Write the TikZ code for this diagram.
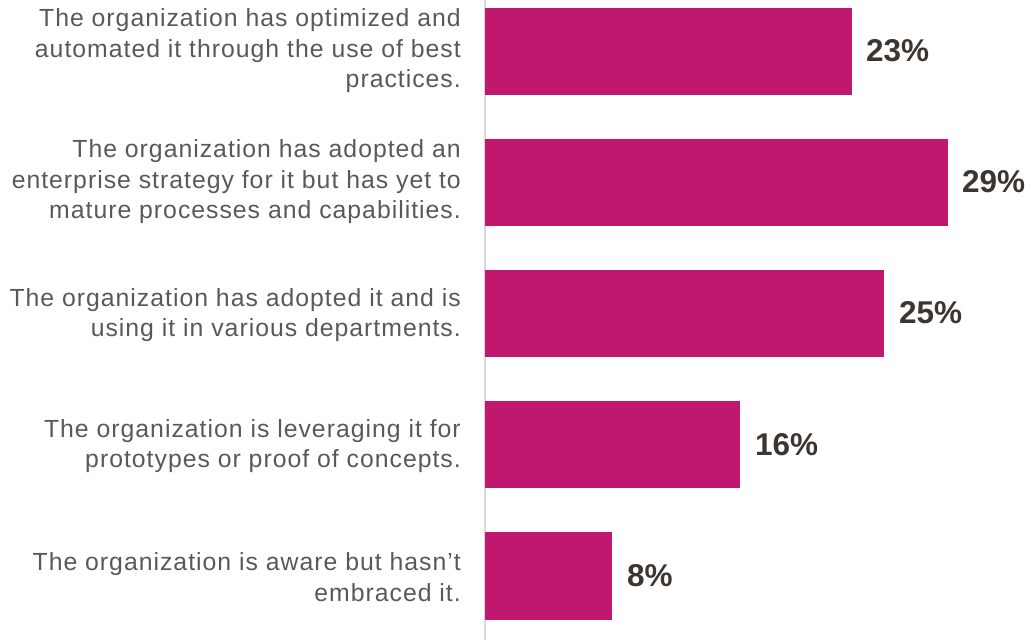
\documentclass[tikz,border=0pt]{standalone}
\usepackage{fontspec}
\setmainfont{Liberation Sans}
\newfontfamily\catfont[LetterSpace=4]{Liberation Sans}
\definecolor{barc}{HTML}{C0176F}
\definecolor{labc}{HTML}{595959}
\definecolor{valc}{HTML}{3D3530}
\definecolor{axc}{HTML}{D9D9D9}
\begin{document}
\begin{tikzpicture}[x=1pt,y=-1pt,
  bar/.style={fill=barc,draw=none},
  cat/.style={anchor=east,align=right,inner sep=0pt,text=labc,font=\catfont\fontsize{24.8}{30.5}\selectfont},
  val/.style={anchor=west,inner sep=0pt,text=valc,font=\fontsize{31.5}{34}\selectfont\bfseries}]
\useasboundingbox (0,0) rectangle (1030,640);
\draw[axc,line width=2pt] (484.5,0) coordinate (axt) -- (484.5,640) coordinate (axb);
% bars
\path[bar] (485,7.5) rectangle (852,95) ;
\path[bar] (485,138.5) rectangle (948,225.5);
\path[bar] (485,269.5) rectangle (884,357);
\path[bar] (485,401) rectangle (740,488);
\path[bar] (485,532) rectangle (612,619.5);
\node[val] (v1) at (866,51) {23\%};
\node[val] (v2) at (962,182) {29\%};
\node[val] (v3) at (899,313) {25\%};
\node[val] (v4) at (755,444.5) {16\%};
\node[val] (v5) at (627,576) {8\%};
\node[cat] (c1) at (461,51) {The organization has optimized and\\automated it through the use of best\\practices.};
\node[cat] (c2) at (461,182) {The organization has adopted an\\enterprise strategy for it but has yet to\\mature processes and capabilities.};
\node[cat] (c3) at (461,315) {The organization has adopted it and is\\using it in various departments.};
\node[cat] (c4) at (461,446) {The organization is leveraging it for\\prototypes or proof of concepts.};
\node[cat] (c5) at (461,577) {The organization is aware but hasn’t\\embraced it.};
\end{tikzpicture}
\end{document}
